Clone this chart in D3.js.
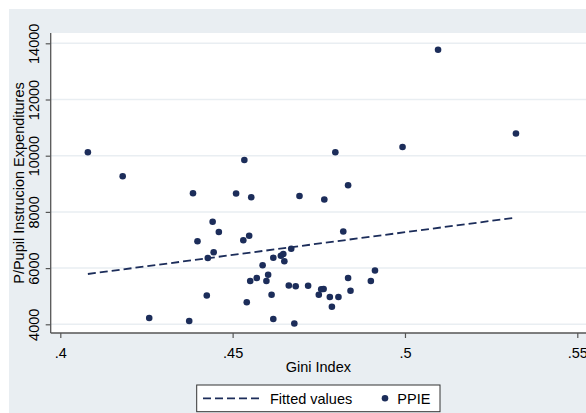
<!DOCTYPE html>
<html>
<head>
<meta charset="utf-8">
<script src="https://cdn.jsdelivr.net/npm/d3@7"></script>
<style>
    html, body { margin: 0; padding: 0; background: #fff; }
    svg text { font-family: "Liberation Sans", Arial, sans-serif; fill: #000; }
</style>
</head>
<body>
<svg id="chart" width="586" height="413"></svg>
<script>
// Gini index vs per-pupil instruction expenditures (Stata-style scatter + fit).

var gini = [
    0.4080, 0.4181, 0.4258, 0.4374, 0.4385, 0.4398, 0.4425, 0.4428, 0.4442, 0.4445,
    0.4460, 0.4510, 0.4531, 0.4534, 0.4541, 0.4548, 0.4551, 0.4554, 0.4570, 0.4587,
    0.4598, 0.4603, 0.4613, 0.4618, 0.4618, 0.4640, 0.4647, 0.4650, 0.4663, 0.4670,
    0.4679, 0.4683, 0.4694, 0.4719, 0.4750, 0.4757, 0.4764, 0.4766, 0.4782, 0.4788,
    0.4798, 0.4807, 0.4821, 0.4835, 0.4835, 0.4842, 0.4901, 0.4913, 0.4993, 0.5096,
    0.5322
];
var ppie = [
    10121, 9267, 4224, 4117, 8662, 6954, 5025, 6359, 7651, 6562,
    7285, 8655, 6989, 9847, 4786, 7149, 5541, 8520, 5648, 6103,
    5541, 5762, 5050, 6367, 4189, 6441, 6502, 6242, 5381, 6690,
    4028, 5352, 8566, 5374, 5053, 5246, 5256, 8441, 4972, 4626,
    10121, 4972, 7302, 8947, 5648, 5192, 5541, 5915, 10310, 13769,
    10790
];

// Fitted values line, read at its two ends.
var fitX = [0.408, 0.532];
var fitY = [5790, 7794];

var xTicks = [0.40, 0.45, 0.50, 0.55];
var xTickLabels = [".4", ".45", ".5", ".55"];
var yTicks = [4000, 6000, 8000, 10000, 12000, 14000];

var navy = "#1c2d5a";
var bg = "#e9eef2";

var svg = d3.select("#chart");

// Outer background, with the white strip on top and left.
svg.append("rect")
    .attr("x", 9).attr("y", 9)
    .attr("width", 586 - 9).attr("height", 413 - 9)
    .attr("fill", bg);

var plot = { left: 50.7, top: 33, right: 586, bottom: 333 };

svg.append("rect")
    .attr("x", plot.left).attr("y", plot.top)
    .attr("width", plot.right - plot.left).attr("height", plot.bottom - plot.top)
    .attr("fill", "#fff");

var x = d3.scaleLinear().domain([0.4, 0.55]).range([60.3, 577.3]);
var y = d3.scaleLinear().domain([4000, 14000]).range([324.3, 43.3]);

// Horizontal grid lines.
svg.append("g").selectAll("line")
    .data(yTicks)
    .enter().append("line")
    .attr("x1", plot.left).attr("x2", plot.right)
    .attr("y1", function (d) { return y(d); })
    .attr("y2", function (d) { return y(d); })
    .attr("stroke", bg)
    .attr("stroke-width", 1.5);

// Y axis.
var yAxis = svg.append("g")
    .attr("transform", "translate(" + plot.left + ",0)")
    .call(d3.axisLeft(y).tickValues(yTicks).tickSize(5).tickSizeOuter(0).tickFormat(d3.format("d")));
yAxis.select(".domain").remove();
yAxis.append("line")
    .attr("x1", 0).attr("x2", 0)
    .attr("y1", plot.top).attr("y2", plot.bottom)
    .attr("stroke", "#555").attr("stroke-width", 1.3);
yAxis.selectAll(".tick line").attr("stroke", "#555").attr("stroke-width", 1.2);
yAxis.selectAll(".tick text")
    .attr("x", 0).attr("y", 0).attr("dy", null)
    .attr("text-anchor", "middle")
    .attr("transform", "translate(-12,0) rotate(-90)")
    .style("font-size", "14.5px")
    .attr("fill", "#000");

// X axis.
var xAxis = svg.append("g")
    .attr("transform", "translate(0," + plot.bottom + ")")
    .call(d3.axisBottom(x).tickValues(xTicks).tickSize(5).tickSizeOuter(0)
        .tickFormat(function (d, i) { return xTickLabels[i]; }));
xAxis.select(".domain").remove();
xAxis.append("line")
    .attr("x1", plot.left).attr("x2", plot.right)
    .attr("y1", 0).attr("y2", 0)
    .attr("stroke", "#555").attr("stroke-width", 1.3);
xAxis.selectAll(".tick line").attr("stroke", "#555").attr("stroke-width", 1.2);
xAxis.selectAll(".tick text")
    .attr("y", 25).attr("dy", null)
    .style("font-size", "14.5px")
    .attr("fill", "#000");

// Axis titles.
svg.append("text")
    .attr("transform", "translate(24," + ((plot.top + plot.bottom) / 2) + ") rotate(-90)")
    .attr("text-anchor", "middle")
    .style("font-size", "14.5px")
    .text("P/Pupil Instrucion Expenditures");

svg.append("text")
    .attr("x", (plot.left + plot.right) / 2)
    .attr("y", 372)
    .attr("text-anchor", "middle")
    .style("font-size", "14.5px")
    .text("Gini Index");

// Fitted line.
var line = d3.line()
    .x(function (d) { return x(d[0]); })
    .y(function (d) { return y(d[1]); });
svg.append("path")
    .datum(d3.zip(fitX, fitY))
    .attr("d", line)
    .attr("fill", "none")
    .attr("stroke", navy)
    .attr("stroke-width", 1.8)
    .attr("stroke-dasharray", "8,4");

// Points.
svg.append("g").selectAll("circle")
    .data(d3.zip(gini, ppie))
    .enter().append("circle")
    .attr("cx", function (d) { return x(d[0]); })
    .attr("cy", function (d) { return y(d[1]); })
    .attr("r", 3.3)
    .attr("fill", navy);

// Legend.
var legend = svg.append("g");
legend.append("rect")
    .attr("x", 196.7).attr("y", 385)
    .attr("width", 243.3).attr("height", 26.7)
    .attr("fill", "#fff")
    .attr("stroke", "#333")
    .attr("stroke-width", 1);
legend.append("line")
    .attr("x1", 203).attr("x2", 262)
    .attr("y1", 398.3).attr("y2", 398.3)
    .attr("stroke", navy)
    .attr("stroke-width", 1.8)
    .attr("stroke-dasharray", "8,4");
legend.append("text")
    .attr("x", 270).attr("y", 403.5)
    .style("font-size", "14.5px")
    .text("Fitted values");
legend.append("circle")
    .attr("cx", 385).attr("cy", 398.3)
    .attr("r", 3.3)
    .attr("fill", navy);
legend.append("text")
    .attr("x", 397.3).attr("y", 403.5)
    .style("font-size", "14.5px")
    .text("PPIE");
</script>
</body>
</html>
